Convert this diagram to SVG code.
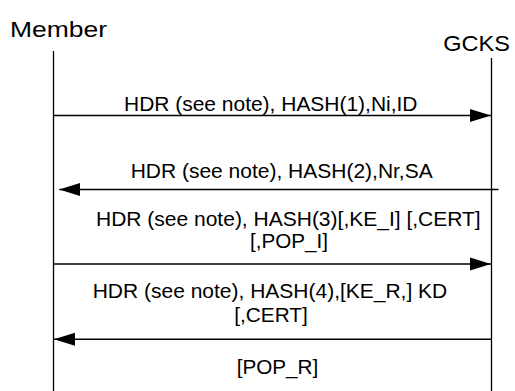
<svg xmlns="http://www.w3.org/2000/svg" width="515" height="391" viewBox="0 0 515 391">
  <style>
    .lbl { font-family: "Liberation Sans", Arial, sans-serif; fill: #000; }
    .head { font-size: 22.5px; }
    .msg { font-size: 19.5px; }
    .life { stroke: #000; stroke-width: 1.3; fill: none; }
    .arrow { stroke: #000; stroke-width: 1.4; fill: none; marker-end: url(#tip); }
  </style>
  <defs>
    <marker id="tip" markerUnits="userSpaceOnUse" markerWidth="22" markerHeight="14" refX="21" refY="7" orient="auto">
      <path d="M0,0.5 L21,7 L0,13.5 Z" fill="#000"/>
    </marker>
  </defs>
  <rect width="515" height="391" fill="#fff"/>

  <!-- participants -->
  <g id="member">
    <text class="lbl head" x="10" y="36.7" textLength="97" lengthAdjust="spacingAndGlyphs">Member</text>
    <line class="life" x1="53.5" y1="51" x2="53.5" y2="391"/>
  </g>
  <g id="gcks">
    <text class="lbl head" x="443.3" y="50.7" textLength="66.7" lengthAdjust="spacingAndGlyphs">GCKS</text>
    <line class="life" x1="491.5" y1="58" x2="491.5" y2="391"/>
  </g>

  <!-- messages -->
  <g id="connectors">
    <line class="arrow" x1="53.5" y1="115.5" x2="491" y2="115.5"/>
    <text class="lbl msg" x="124" y="110.7" textLength="293.5" lengthAdjust="spacingAndGlyphs">HDR (see note), HASH(1),Ni,ID</text>

    <line class="arrow" x1="498.5" y1="189.5" x2="59.3" y2="189.5"/>
    <text class="lbl msg" x="130.7" y="178.3" textLength="302" lengthAdjust="spacingAndGlyphs">HDR (see note), HASH(2),Nr,SA</text>

    <line class="arrow" x1="53.5" y1="264" x2="491" y2="264"/>
    <text class="lbl msg" x="96" y="225.7" textLength="384.7" lengthAdjust="spacingAndGlyphs">HDR (see note), HASH(3)[,KE_I] [,CERT]</text>
    <text class="lbl msg" x="250" y="248.3" textLength="78" lengthAdjust="spacingAndGlyphs">[,POP_I]</text>

    <line class="arrow" x1="491.5" y1="339.3" x2="54" y2="339.3"/>
    <text class="lbl msg" x="92.7" y="297.7" textLength="354.6" lengthAdjust="spacingAndGlyphs">HDR (see note), HASH(4),[KE_R,] KD</text>
    <text class="lbl msg" x="234.3" y="322.3" textLength="73.5" lengthAdjust="spacingAndGlyphs">[,CERT]</text>

    <text class="lbl msg" x="236.7" y="374" textLength="81.5" lengthAdjust="spacingAndGlyphs">[POP_R]</text>
  </g>
</svg>
